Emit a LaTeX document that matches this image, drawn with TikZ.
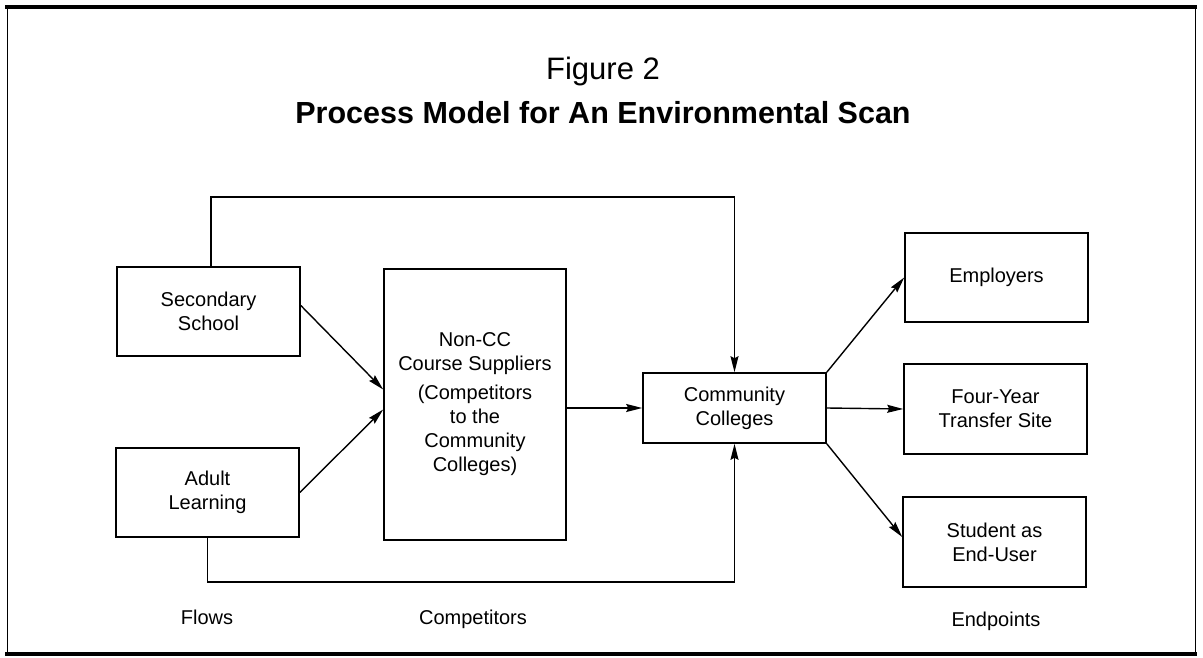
\documentclass[tikz,border=0pt]{standalone}
\usepackage{fontspec}
\setmainfont{Liberation Sans}
\usetikzlibrary{arrows.meta,calc}
\begin{document}
\begin{tikzpicture}[x=1pt,y=-1pt,
  box/.style={draw,line width=1.6pt,inner sep=0pt,align=center,font=\fontsize{20}{24}\selectfont},
  arr/.style={line width=1.4pt,-{Stealth[length=16pt,width=8pt,inset=2pt]}},
  captxt/.style={font=\fontsize{20}{24}\selectfont,inner sep=0pt,anchor=base}]
\useasboundingbox (0,0) rectangle (1203,658);
% frame
\draw[line width=1pt] (7,7) -- (7,654);
\draw[line width=1pt] (1195,7) -- (1195,654);
\draw[line width=3.5pt] (5,7) -- (1197,7);
\draw[line width=3.5pt] (5,654) -- (1197,654);
% titles
\node[inner sep=0pt,anchor=base,font=\fontsize{31}{34}\selectfont] (fig) at (603,80) {Figure 2};
\node[inner sep=0pt,anchor=base,font=\fontsize{30.5}{34}\selectfont\bfseries] (title) at (603,124) {Process Model for An Environmental Scan};
% boxes
\node[box,minimum width=183pt,minimum height=89pt] (ss) at (208.5,311.5) {Secondary\\School};
\node[box,minimum width=183pt,minimum height=89pt] (al) at (207.5,492.5) {Adult\\Learning};
\node[box,minimum width=182pt,minimum height=271pt] (nc) at (475,404.5) {Non-CC\\Course Suppliers\\[5pt](Competitors\\to the\\Community\\Colleges)};
\node[box,minimum width=183pt,minimum height=70pt] (cc) at (734.5,408) {Community\\Colleges};
\node[box,minimum width=183pt,minimum height=89pt] (emp) at (996.5,277.5) {Employers};
\node[box,minimum width=183pt,minimum height=90pt] (fy) at (995.5,409) {Four-Year\\Transfer Site};
\node[box,minimum width=183pt,minimum height=90pt] (st) at (994.5,542) {Student as\\End-User};
% captions
\node[captxt] (flows) at (207,624) {Flows};
\node[captxt] (comp) at (473,624) {Competitors};
\node[captxt] (endp) at (996,626) {Endpoints};
% connectors
\coordinate (topc) at (734.5,197);
\coordinate (botc) at (734.5,582);
\draw[arr] ([xshift=2.5pt]ss.north) |- (topc) -- (cc.north);
\draw[arr] (al.south) |- (botc) -- (cc.south);
\draw[arr] ([yshift=6pt]ss.east) -- ([yshift=15pt]nc.west);
\draw[arr] (al.east) -- ([yshift=-5pt]nc.west);
\draw[arr] (nc.east |- cc.west) -- (cc.west);
\draw[arr] (cc.north east) -- (emp.west);
\draw[arr] (cc.east) -- (fy.west);
\draw[arr] (cc.south east) -- ([yshift=5pt]st.west);
\end{tikzpicture}
\end{document}
